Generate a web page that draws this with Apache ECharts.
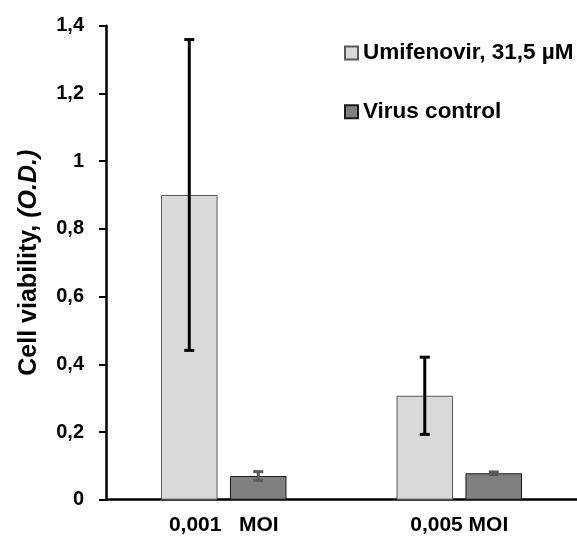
<!DOCTYPE html>
<html>
<head>
<meta charset="utf-8">
<script src="https://cdn.jsdelivr.net/npm/echarts@6/dist/echarts.min.js"></script>
<style>
  html, body { margin: 0; padding: 0; background: #fff; }
  #main { width: 577px; height: 538px; }
</style>
</head>
<body>
<div id="main"></div>
<script>
// data
var categories = ['0,001   MOI', '0,005 MOI'];
var umifenovir = [0.9, 0.307];
var umifenovirErr = [0.459, 0.114];
var virusControl = [0.07, 0.078];
var virusControlErr = [0.013, 0.004];

var FONT = "'Liberation Sans', Arial, sans-serif";
var BAR_W = 0.24;    // share of category band
var BAR_GAP = 0.22;  // share of bar width

var chartDom = document.getElementById('main');
var myChart = echarts.init(chartDom);
var option;

function errData(means, errs) {
  return means.map(function (m, i) { return [i, m, errs[i]]; });
}

function errRender(side, color) {
  return function (params, api) {
    var cat = api.value(0), mean = api.value(1), err = api.value(2);
    var band = api.size([1, 0])[0];
    var dx = side * band * BAR_W * (1 + BAR_GAP) / 2;
    var top = api.coord([cat, mean + err]);
    var bot = api.coord([cat, mean - err]);
    var x = top[0] + dx;
    var cap = 5;
    var st = { stroke: color, lineWidth: 3 };
    return {
      type: 'group',
      children: [
        { type: 'line', shape: { x1: x, y1: top[1], x2: x, y2: bot[1] }, style: st },
        { type: 'line', shape: { x1: x - cap, y1: top[1], x2: x + cap, y2: top[1] }, style: st },
        { type: 'line', shape: { x1: x - cap, y1: bot[1], x2: x + cap, y2: bot[1] }, style: st }
      ]
    };
  };
}

option = {
  animation: false,
  textStyle: { fontFamily: FONT },
  legend: {
    data: ['Umifenovir, 31,5 µM', 'Virus control'],
    orient: 'vertical',
    left: 344,
    top: 41.5,
    padding: 0,
    icon: 'rect',
    itemWidth: 13,
    itemHeight: 13,
    itemGap: 35.7,
    selectedMode: false,
    textStyle: { fontSize: 22.5, fontWeight: 'bold', color: '#000', fontFamily: FONT, lineHeight: 23 }
  },
  grid: {
    left: 106,
    top: 25.7,
    height: 474,
    width: 479
  },
  xAxis: {
    type: 'category',
    data: categories,
    axisLine: { lineStyle: { color: '#000', width: 2.5 } },
    axisTick: { show: false },
    axisLabel: { fontSize: 21, fontWeight: 'bold', color: '#000', margin: 15, fontFamily: FONT }
  },
  yAxis: {
    type: 'value',
    min: 0,
    max: 1.4,
    interval: 0.2,
    name: 'Cell viability, {i|(O.D.)}',
    nameLocation: 'middle',
    nameGap: 64,
    nameTextStyle: {
      fontSize: 25, fontWeight: 'bold', color: '#000', fontFamily: FONT,
      rich: { i: { fontSize: 25, fontWeight: 'bold', fontStyle: 'italic', color: '#000', fontFamily: FONT } }
    },
    splitLine: { show: false },
    axisLine: { show: true, lineStyle: { color: '#000', width: 2.5 } },
    axisTick: { show: true, length: 7, lineStyle: { color: '#000', width: 2 } },
    axisLabel: {
      fontSize: 20, fontWeight: 'bold', color: '#000', margin: 22, fontFamily: FONT,
      formatter: function (v) { return String(+v.toFixed(1)).replace('.', ','); }
    }
  },
  series: [
    {
      name: 'Umifenovir, 31,5 µM',
      type: 'bar',
      data: umifenovir,
      barWidth: (BAR_W * 100) + '%',
      barGap: (BAR_GAP * 100) + '%',
      itemStyle: { color: '#d9d9d9', borderColor: '#595959', borderWidth: 1 }
    },
    {
      name: 'Virus control',
      type: 'bar',
      data: virusControl,
      barWidth: (BAR_W * 100) + '%',
      barGap: (BAR_GAP * 100) + '%',
      itemStyle: { color: '#808080', borderColor: '#1a1a1a', borderWidth: 1 }
    },
    {
      name: 'err1',
      type: 'custom',
      renderItem: errRender(-1, '#000'),
      data: errData(umifenovir, umifenovirErr),
      encode: { x: 0, y: 1 },
      z: 10
    },
    {
      name: 'err2',
      type: 'custom',
      renderItem: errRender(1, '#5a5a5a'),
      data: errData(virusControl, virusControlErr),
      encode: { x: 0, y: 1 },
      z: 10
    }
  ]
};

option && myChart.setOption(option);
</script>
</body>
</html>
